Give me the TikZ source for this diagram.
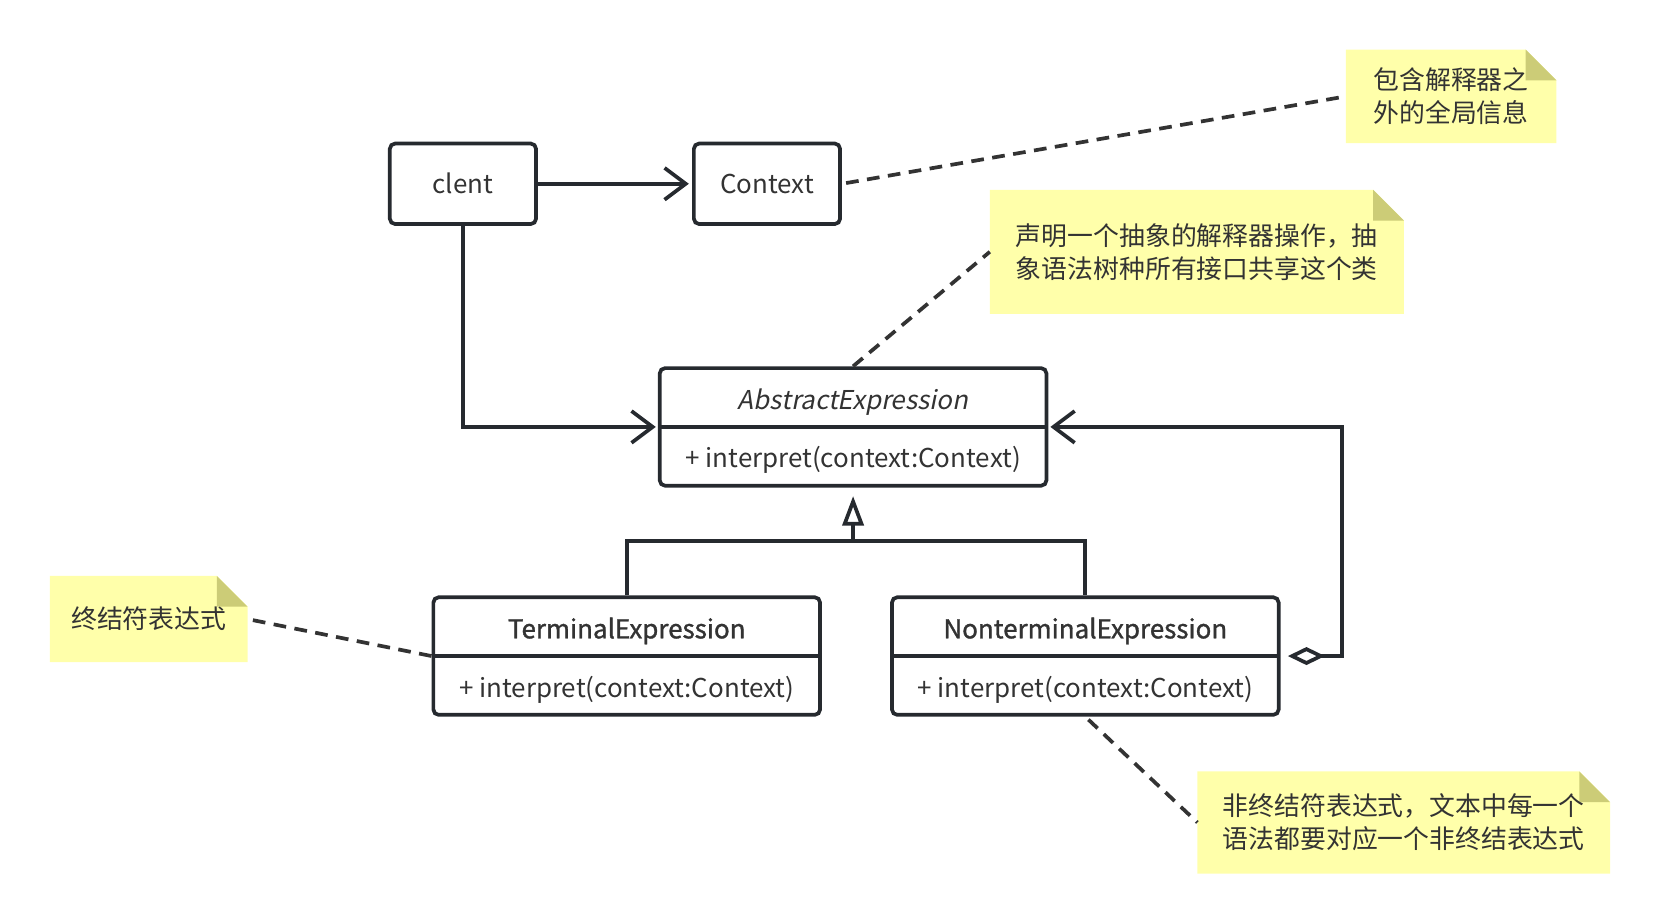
\documentclass[tikz,border=0pt]{standalone}
\usepackage{fontspec}
\setmainfont{Noto Sans CJK SC}[AutoFakeSlant=0.2,AutoFakeBold=1.2]
\usetikzlibrary{arrows.meta,shapes.multipart,backgrounds}
\definecolor{ln}{HTML}{262A2F}
\definecolor{txt}{HTML}{333333}
\definecolor{notebg}{HTML}{FFFFAA}
\definecolor{notefold}{HTML}{CCCC77}
\newcommand{\cstrut}{\rule[-15pt]{0pt}{52pt}}
\tikzset{
  barb/.tip={Straight Barb[length=20pt,width=30pt]},
  cls/.style={draw=ln,line width=3.5pt,rounded corners=5pt,text=txt,
    rectangle split,rectangle split parts=2,minimum width=365pt,
    inner ysep=0pt,font=\fontsize{24.5}{28}\selectfont},
  box/.style={draw=ln,line width=3.5pt,rounded corners=5pt,text=txt,
    minimum width=138pt,minimum height=76pt,font=\fontsize{24.5}{28}\selectfont},
  note/.style={align=left,text=txt,inner sep=0pt,font=\fontsize{24.4}{31}\selectfont},
  link/.style={draw=ln,line width=3.5pt},
  notelink/.style={draw=txt,line width=3.5pt,dash pattern=on 12pt off 8pt}
}
\begin{document}
\begin{tikzpicture}[x=1pt,y=-1pt]
\useasboundingbox (0,0) rectangle (1567,872);
% classes
\node[box] (cl) at (437,173.5) {clent};
\node[box] (ctx) at (724,173.5) {Context};
\node[cls] (abs) at (805.3,403) {\cstrut{\itshape AbstractExpression} \nodepart{two}\cstrut+ interpret(context:Context)};
\node[cls] (term) at (591.6,619.3) {\cstrut{\bfseries TerminalExpression} \nodepart{two}\cstrut+ interpret(context:Context)};
\node[cls] (nterm) at (1024.5,619.3) {\cstrut{\bfseries NonterminalExpression} \nodepart{two}\cstrut+ interpret(context:Context)};
% notes
\node[note,minimum width=198.5pt,minimum height=88pt] (nA) at (1369.8,91) {包含解释器之\\外的全局信息};
\node[note,minimum width=390.5pt,minimum height=116.7pt] (nB) at (1129.8,237.7) {声明一个抽象的解释器操作，抽\\象语法树种所有接口共享这个类};
\node[note,minimum width=389.2pt,minimum height=96pt] (nC) at (1325.1,776.4) {非终结符表达式，文本中每一个\\语法都要对应一个非终结表达式};
\node[note,minimum width=186.3pt,minimum height=81pt] (nD) at (140.4,584.4) {终结符表达式};
\begin{scope}[on background layer]
\foreach \nt in {nA,nB,nC,nD}{
  \fill[notebg] (\nt.south west) -- (\nt.north west) -- ([xshift=-29pt]\nt.north east) -- ([yshift=-29pt]\nt.north east) -- (\nt.south east) -- cycle;
  \fill[notefold] ([xshift=-29pt]\nt.north east) -- ([xshift=-29pt,yshift=-29pt]\nt.north east) -- ([yshift=-29pt]\nt.north east) -- cycle;
}
\end{scope}
% connectors
\draw[link,-barb,shorten >=3pt] (cl.east) -- (ctx.west);
\draw[link,-barb,shorten >=2pt] (cl.south) |- (abs.text split west);
\coordinate (junc) at (abs.south |- 0,510.7);
\draw[link] (term.north) |- (junc) -| (nterm.north);
\draw[link,-{Triangle[open,length=28pt,width=20pt]},shorten >=8pt] (junc) -- (abs.south);
\draw[link,{Diamond[open,length=35pt,width=17pt]}-barb,shorten <=7pt,shorten >=2pt] (nterm.text split east) -- ++(58,0) |- (abs.text split east);
% note links
\draw[notelink,shorten <=4pt] (ctx.east) -- (nA.west);
\draw[notelink] (abs.north) -- (nB.west);
\draw[notelink] (term.text split west) -- (nD.east);
\draw[notelink,shorten <=4pt] (nterm.south) -- (nC.west);
\end{tikzpicture}
\end{document}
